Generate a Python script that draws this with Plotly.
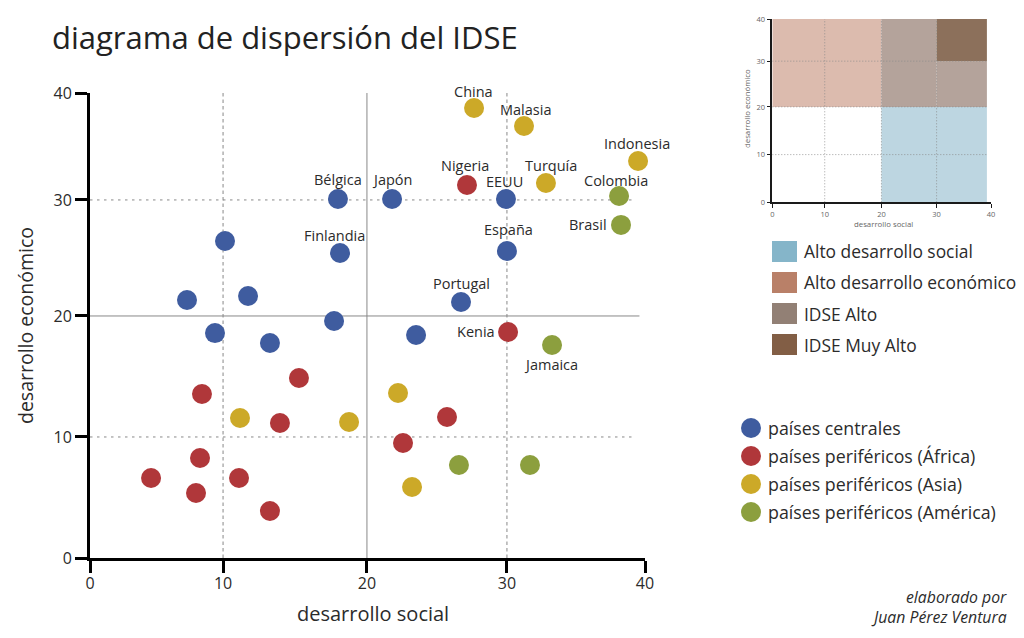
import plotly.graph_objects as go

TITLE = "diagrama de dispersión del IDSE"
FONT = "Open Sans"
INK = "#2b2b2b"

# nominal tick labels and where the drawn ticks really sit on the (slightly irregular) source axes
tick_labels = ["0", "10", "20", "30", "40"]
x_tick_pos = [0, 9.59, 19.96, 30.05, 40]
y_tick_pos = [0, 10.41, 20.82, 30.8, 40]

central_x = [17.87, 21.77, 29.98, 18.02, 30.05, 9.73, 26.74, 11.39, 6.99, 9.01, 17.59, 12.97, 23.5]
central_y = [30.88, 30.88, 30.88, 26.24, 26.41, 27.27, 22.02, 22.54, 22.19, 19.35, 20.39, 18.49, 19.18]
central_names = ["Bélgica", "Japón", "EEUU", "Finlandia", "España", "", "Portugal", "", "", "", "", "", ""]

africa_x = [27.17, 30.13, 15.06, 8.07, 13.69, 25.73, 22.56, 7.93, 4.40, 10.74, 7.64, 12.97]
africa_y = [32.09, 19.44, 15.48, 14.11, 11.61, 12.13, 9.89, 8.60, 6.88, 6.88, 5.59, 4.04]
africa_names = ["Nigeria", "Kenia", "", "", "", "", "", "", "", "", "", ""]

asia_x = [27.68, 31.28, 39.5, 32.86, 22.2, 10.81, 18.67, 23.21]
asia_y = [38.71, 37.16, 34.15, 32.26, 14.19, 12.04, 11.7, 6.11]
asia_names = ["China", "Malasia", "Indonesia", "Turquía", "", "", "", ""]

america_x = [38.13, 38.27, 33.3, 26.59, 31.71]
america_y = [31.14, 28.65, 18.32, 8.0, 8.0]
america_names = ["Colombia", "Brasil", "Jamaica", "", ""]

groups = [
    ("países centrales", "#3f5c9f", central_x, central_y, central_names),
    ("países periféricos (África)", "#b0373a", africa_x, africa_y, africa_names),
    ("países periféricos (Asia)", "#cca928", asia_x, asia_y, asia_names),
    ("países periféricos (América)", "#8c9f3e", america_x, america_y, america_names),
]

# label offset from its point, pixels
label_shift = {
    "China": (-1, 17), "Malasia": (1, 17), "Indonesia": (-1, 18), "Turquía": (5, 17),
    "Nigeria": (-2, 19), "EEUU": (-1, 18), "Colombia": (-3, 16), "Brasil": (-33, 0),
    "España": (2, 21), "Bélgica": (0, 20), "Japón": (0, 20), "Finlandia": (-6, 17),
    "Portugal": (0, 19), "Kenia": (-32, 1), "Jamaica": (-1, -19),
}

zone_names = ["Alto desarrollo social", "Alto desarrollo económico", "IDSE Alto", "IDSE Muy Alto"]
zone_colors = ["#85b5c9", "#b98068", "#928075", "#825e45"]
inset_fill = {"blue": "#bdd6e1", "pink": "#dcbbae", "grey": "#b4a39b", "brown": "#8c705b"}

fig = go.Figure()
W, H = 1024, 638
shapes = []

key_rows = [428, 456, 484, 512]
for (name, color, xs, ys, names), row in zip(groups, key_rows):
    fig.add_trace(go.Scatter(x=xs, y=ys, mode="markers", name=name, showlegend=False,
                             marker=dict(size=20, color=color, line=dict(width=0)),
                             cliponaxis=False, xaxis="x", yaxis="y"))
    for x, y, n in zip(xs, ys, names):
        if n:
            dx, dy = label_shift[n]
            fig.add_annotation(x=x, y=y, xref="x", yref="y", text=n, showarrow=False,
                               xshift=dx, yshift=dy, font=dict(family=FONT, size=14.5, color=INK))
    # key entry
    shapes.append(dict(type="circle", xref="paper", yref="paper", x0=741 / W, x1=761 / W,
                       y0=1 - (row + 10) / H, y1=1 - (row - 10) / H, fillcolor=color, line=dict(width=0)))
    fig.add_annotation(xref="paper", yref="paper", x=766 / W, y=1 - row / H, text=name, showarrow=False,
                       xanchor="left", yanchor="middle", font=dict(family=FONT, size=17.8, color=INK))

# main reference lines
for pos, solid in [(x_tick_pos[1], False), (x_tick_pos[2], True), (x_tick_pos[3], False)]:
    shapes.append(dict(type="line", xref="x", yref="y", x0=pos, x1=pos, y0=0, y1=40, layer="below",
                       line=dict(color="#888888", width=1, dash="3.5px,3px" if not solid else "solid")))
for pos, solid in [(y_tick_pos[1], False), (y_tick_pos[2], True), (y_tick_pos[3], False)]:
    shapes.append(dict(type="line", xref="x", yref="y", x0=0, x1=39.6 if solid else 39.3, y0=pos, y1=pos, layer="below",
                       line=dict(color="#888888", width=1, dash="2.5px,4.5px" if not solid else "solid")))

# inset zones
X20, X30, Y20, Y30 = x_tick_pos[2], x_tick_pos[3], y_tick_pos[2], y_tick_pos[3]
XEND = 39.25
for x0, x1, y0, y1, c in [
    (0, X20, Y20, 40, "pink"), (X20, X30, Y20, 40, "grey"), (X30, XEND, Y20, Y30, "grey"),
    (X30, XEND, Y30, 40, "brown"), (X20, XEND, 0, Y20, "blue"),
]:
    shapes.append(dict(type="rect", xref="x2", yref="y2", x0=x0, x1=x1, y0=y0, y1=y1, layer="below",
                       fillcolor=inset_fill[c], line=dict(width=0)))
for pos in x_tick_pos[1:4]:
    shapes.append(dict(type="line", xref="x2", yref="y2", x0=pos, x1=pos, y0=0, y1=40, layer="below",
                       line=dict(color="#888888", width=0.8, dash="1px,2px")))
for pos in y_tick_pos[1:4]:
    shapes.append(dict(type="line", xref="x2", yref="y2", x0=0, x1=XEND, y0=pos, y1=pos, layer="below",
                       line=dict(color="#888888", width=0.8, dash="1px,2px")))

# zone key
zone_tops = [241, 272, 303, 334]
for top, name, color in zip(zone_tops, zone_names, zone_colors):
    shapes.append(dict(type="rect", xref="paper", yref="paper", x0=772 / W, x1=797 / W,
                       y0=1 - (top + 21) / H, y1=1 - top / H, fillcolor=color, line=dict(width=0)))
    fig.add_annotation(xref="paper", yref="paper", x=802 / W, y=1 - (top + 10.5) / H, text=name, showarrow=False,
                       xanchor="left", yanchor="middle", font=dict(family=FONT, size=17.4, color=INK))

def paper_text(px, py, text, size, color=INK, anchor="center", angle=0):
    fig.add_annotation(xref="paper", yref="paper", x=px / W, y=1 - py / H, text=text, showarrow=False, textangle=angle,
                       xanchor=anchor, yanchor="middle", font=dict(family=FONT, size=size, color=color))

paper_text(50, 37, TITLE, 31, "#222222", "left")
paper_text(1009, 597, "<i>elaborado por</i>", 15.8, INK, "right")
paper_text(1009, 617, "<i>Juan Pérez Ventura</i>", 15.8, INK, "right")
paper_text(373, 613, "desarrollo social", 20)
paper_text(883, 224, "desarrollo social", 7.8, "#666666")
paper_text(747, 109, "desarrollo económico", 7.8, "#666666", angle=-90)

main_axis = dict(range=[0, 40], tickmode="array", ticktext=tick_labels, showgrid=False, zeroline=False, automargin=False,
                 showline=True, linecolor="#000000", linewidth=3, ticks="outside", ticklen=12,
                 tickwidth=2.5, tickcolor="#000000", tickfont=dict(family=FONT, size=16, color=INK))
inset_axis = dict(range=[0, 40], tickmode="array", ticktext=tick_labels, showgrid=False, zeroline=False, automargin=False,
                  showline=True, linecolor="#1a1a1a", linewidth=1.5, ticks="outside", ticklen=4,
                  tickwidth=1, tickcolor="#1a1a1a", tickfont=dict(family=FONT, size=7.5, color="#666666"))

fig.update_layout(
    width=W, height=H, margin=dict(l=0, r=0, t=0, b=0), autosize=False,
    paper_bgcolor="#ffffff", plot_bgcolor="rgba(0,0,0,0)", shapes=shapes, showlegend=False,
    font=dict(family=FONT),
    xaxis=dict(main_axis, domain=[90 / W, 645 / W], tickvals=x_tick_pos, anchor="y", ticklabelstandoff=-3),
    yaxis=dict(main_axis, domain=[1 - 558 / H, 1 - 93 / H], tickvals=y_tick_pos, anchor="x",
               title=dict(text="desarrollo económico", font=dict(family=FONT, size=19.5, color=INK))),
    xaxis2=dict(inset_axis, domain=[772.3 / W, 991 / W], tickvals=x_tick_pos, anchor="y2"),
    yaxis2=dict(inset_axis, domain=[1 - 202.3 / H, 1 - 19 / H], tickvals=y_tick_pos, anchor="x2"),
)

fig.write_html("out.html", config=dict(displayModeBar=False),
               post_script="document.body.style.margin='0';")
